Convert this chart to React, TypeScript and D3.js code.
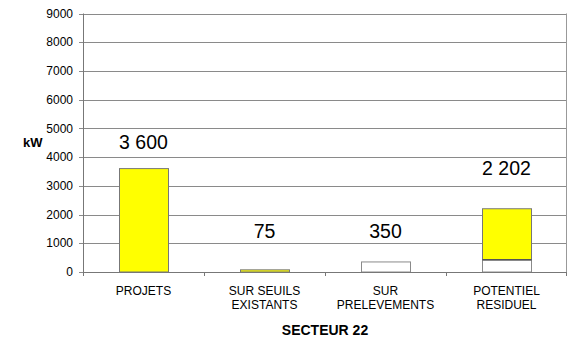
import React from "react";
import * as d3 from "d3";

const categories: string[][] = [
  ["PROJETS"],
  ["SUR SEUILS", "EXISTANTS"],
  ["SUR", "PRELEVEMENTS"],
  ["POTENTIEL", "RESIDUEL"],
];
const whiteValues = [0, 0, 350, 425];
const yellowValues = [3600, 75, 0, 1777];
const valueLabels = ["3 600", "75", "350", "2 202"];
const labelAnchors = [4270, 1170, 1170, 3390];
const yTicks = [0, 1000, 2000, 3000, 4000, 5000, 6000, 7000, 8000, 9000];
const yTitle = "kW";
const xTitle = "SECTEUR 22";

export default function App() {
  const W = 569, H = 340;
  const left = 83, right = 567, top = 13.5, bottom = 272;
  const x = d3.scaleBand<number>().domain(d3.range(categories.length)).range([left, right]).padding(0);
  const y = d3.scaleLinear().domain([0, 9000]).range([bottom, top]);
  const bw = x.bandwidth() * 0.405;
  const font = "'Liberation Sans', Arial, sans-serif";
  return (
    <svg width={W} height={H} style={{ position: "absolute", left: 0, top: 0, background: "#fff" }} fontFamily={font}>
      {yTicks.map((t) => (
        <g key={t}>
          <line x1={left - 4} x2={right} y1={Math.round(y(t)) + 0.5} y2={Math.round(y(t)) + 0.5} stroke="#8a8a8a" strokeWidth={1} />
          <text x={73} y={y(t)} dy="0.35em" textAnchor="end" fontSize={12} fill="#000">{t}</text>
        </g>
      ))}
      <line x1={left + 0.5} x2={left + 0.5} y1={top} y2={bottom + 0.5} stroke="#777" />
      <line x1={right - 0.5} x2={right - 0.5} y1={top} y2={bottom + 0.5} stroke="#999" />
      {d3.range(categories.length + 1).map((i) => {
        const xx = Math.round(i < categories.length ? x(i)! : right) + (i === categories.length ? -0.5 : 0.5);
        return <line key={i} x1={xx} x2={xx} y1={bottom} y2={bottom + 4} stroke="#777" />;
      })}
      {categories.map((c, i) => {
        const cx = x(i)! + x.bandwidth() / 2;
        const x0 = cx - bw / 2;
        const w0 = whiteValues[i];
        const y1 = yellowValues[i];
        return (
          <g key={i}>
            {w0 > 0 && (
              <rect x={Math.round(x0) + 0.5} y={y(w0)} width={bw} height={y(0) - y(w0)} fill="#fff" stroke="#8a8a8a" strokeWidth={1} />
            )}
            {y1 > 0 && (
              <rect x={Math.round(x0) + 0.5} y={y(w0 + y1)} width={bw} height={y(w0) - y(w0 + y1)} fill="#ffff00" stroke="#777" strokeWidth={1} />
            )}
            {w0 > 0 && y1 > 0 && (
              <line x1={Math.round(x0) + 0.5} x2={Math.round(x0) + 0.5 + bw} y1={y(w0)} y2={y(w0)} stroke="#555" strokeWidth={1.5} />
            )}
            <text x={cx} y={y(labelAnchors[i])} textAnchor="middle" fontSize={19.5} fill="#000">{valueLabels[i]}</text>
            {c.map((line, j) => (
              <text key={j} x={cx} y={294.5 + j * 14.5} textAnchor="middle" fontSize={12} fill="#000">{line}</text>
            ))}
          </g>
        );
      })}
      <line x1={left} x2={right} y1={bottom + 0.5} y2={bottom + 0.5} stroke="#777" />
      <text x={23} y={147} fontSize={13} fontWeight="bold" fill="#000">{yTitle}</text>
      <text x={(left + right) / 2} y={335} textAnchor="middle" fontSize={14} fontWeight="bold" fill="#000">{xTitle}</text>
    </svg>
  );
}
